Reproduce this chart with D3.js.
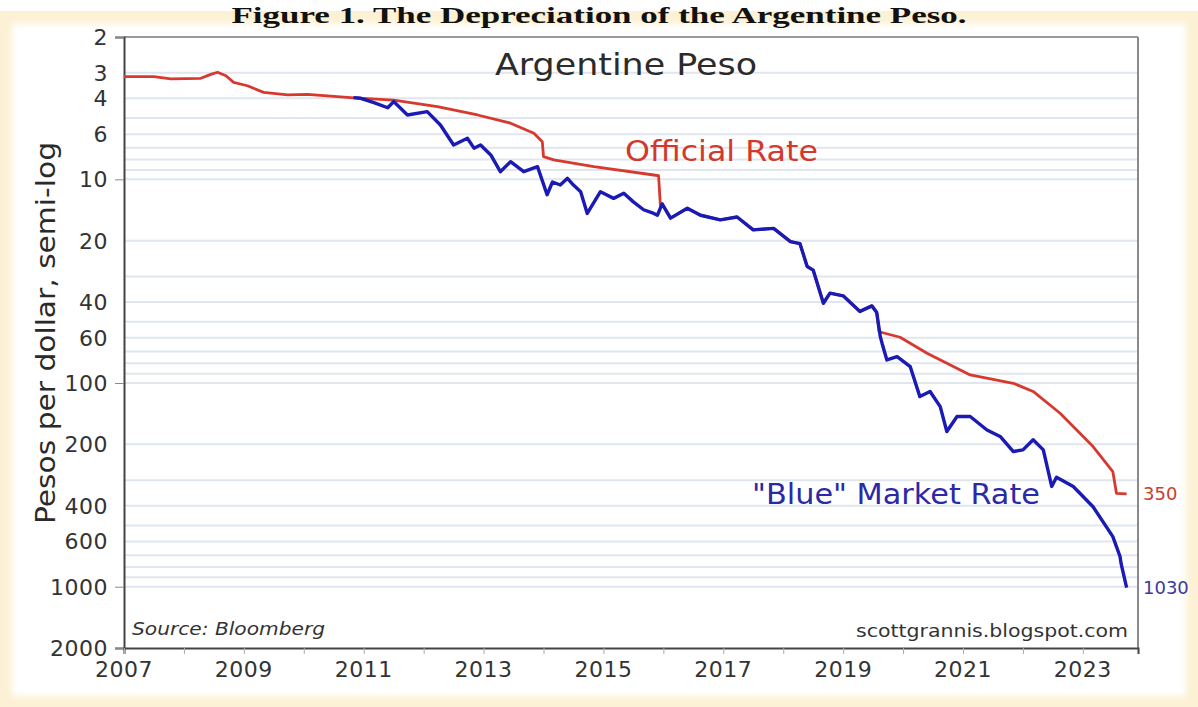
<!DOCTYPE html>
<html>
<head>
<meta charset="utf-8">
<script src="https://cdn.jsdelivr.net/npm/d3@7"></script>
<style>
  html, body { margin: 0; padding: 0; background: #fff; }
  svg { display: block; }
</style>
</head>
<body>
<svg id="chart" width="1198" height="707"></svg>
<script>
// Argentine peso: official vs "blue" market rate (semi-log, inverted)

const officialYears = [2007.0, 2007.5, 2007.78, 2008.28, 2008.45, 2008.56, 2008.7, 2008.83, 2009.06, 2009.33,
  2009.73, 2010.06, 2010.78, 2011.5, 2012.23, 2012.9, 2013.45, 2013.84, 2013.98, 2014.0,
  2014.17, 2014.84, 2015.84, 2015.92, 2015.95, 2015.98, 2016.12, 2016.4, 2016.62, 2016.95,
  2017.23, 2017.5, 2017.84, 2018.12, 2018.28, 2018.4, 2018.5, 2018.67, 2018.78, 2019.0,
  2019.28, 2019.48, 2019.56, 2019.6, 2019.95, 2020.4, 2021.12, 2021.84, 2022.17, 2022.62,
  2023.17, 2023.5, 2023.56, 2023.73];
const officialValues = [3.13, 3.13, 3.21, 3.19, 3.05, 2.98, 3.1, 3.34, 3.47, 3.74,
  3.85, 3.83, 3.97, 4.08, 4.4, 4.83, 5.3, 5.94, 6.53, 7.73,
  8.02, 8.66, 9.52, 9.6, 13.4, 13.2, 15.5, 13.87, 15.0, 15.8,
  15.3, 17.7, 17.4, 20.2, 20.7, 26.8, 27.9, 40.6, 36.2, 37.3,
  44.5, 41.8, 45, 56, 59.6, 71.4, 91.3, 100.3, 110, 140.7,
  205, 272, 348, 350];

const blueYears = [2010.83, 2010.95, 2011.17, 2011.4, 2011.5, 2011.73, 2012.06, 2012.28, 2012.5, 2012.73,
  2012.84, 2012.95, 2013.12, 2013.28, 2013.45, 2013.67, 2013.9, 2014.06, 2014.15, 2014.28,
  2014.4, 2014.5, 2014.62, 2014.73, 2014.95, 2015.17, 2015.34, 2015.5, 2015.67, 2015.84,
  2015.9, 2015.98, 2016.12, 2016.4, 2016.62, 2016.95, 2017.23, 2017.5, 2017.84, 2018.12,
  2018.28, 2018.4, 2018.5, 2018.67, 2018.78, 2019.0, 2019.28, 2019.48, 2019.56, 2019.62,
  2019.65, 2019.73, 2019.9, 2020.12, 2020.28, 2020.45, 2020.62, 2020.73, 2020.9, 2021.12,
  2021.4, 2021.62, 2021.84, 2022.0, 2022.17, 2022.34, 2022.48, 2022.56, 2022.84, 2023.17,
  2023.5, 2023.62, 2023.64, 2023.73];
const blueValues = [3.97, 4.0, 4.2, 4.45, 4.15, 4.83, 4.65, 5.41, 6.78, 6.28,
  7.03, 6.78, 7.59, 9.17, 8.19, 9.17, 8.66, 11.9, 10.3, 10.66,
  9.88, 10.66, 11.5, 14.7, 11.5, 12.4, 11.7, 12.9, 14.1, 14.7,
  15.0, 13.2, 15.5, 13.87, 15.0, 15.8, 15.3, 17.7, 17.4, 20.2,
  20.7, 26.8, 27.9, 40.6, 36.2, 37.3, 44.5, 41.8, 45, 59.2,
  63.9, 77, 74.2, 83.1, 116.6, 110, 130.6, 173, 146, 146,
  170, 183, 217, 213, 190, 213, 322, 290, 322, 405,
  568, 711, 775, 1010];

const yLabelValues = [2, 3, 4, 6, 10, 20, 40, 60, 100, 200, 400, 600, 1000, 2000];
const yTickMarks = [2, 10, 100, 1000, 2000];
const xLabelYears = [2007, 2009, 2011, 2013, 2015, 2017, 2019, 2021, 2023];
const lastOfficial = 350;
const lastBlue = 1030;

const svg = d3.select('#chart');
const W = 1198, H = 707;
const m = { left: 124, right: 1138, top: 37, bottom: 648 };
const font = '"DejaVu Sans", sans-serif';

// frame
const defs = svg.append('defs');
const blur = defs.append('filter').attr('id', 'soft').attr('x', '-5%').attr('y', '-5%')
  .attr('width', '110%').attr('height', '110%');
blur.append('feGaussianBlur').attr('stdDeviation', 3);

svg.append('rect').attr('x', 0).attr('y', 11).attr('width', W).attr('height', H - 11)
  .attr('fill', '#fcf1d4');
svg.append('rect').attr('x', 12).attr('y', 24).attr('width', W - 24).attr('height', H - 35)
  .attr('fill', '#fff').attr('filter', 'url(#soft)');

svg.append('text')
  .attr('x', W / 2).attr('y', 23)
  .attr('text-anchor', 'middle')
  .attr('font-family', '"Liberation Serif", serif')
  .attr('font-weight', 'bold')
  .attr('font-size', 24)
  .attr('fill', '#111')
  .attr('textLength', 735)
  .attr('lengthAdjust', 'spacingAndGlyphs')
  .text('Figure 1. The Depreciation of the Argentine Peso.');

const x = d3.scaleLinear().domain([2007, 2023.92]).range([m.left, m.right]);
const y = d3.scaleLog().domain([2, 2000]).range([m.top, m.bottom]);

// minor grid: every integer multiple within each decade
const gridVals = [];
[1, 10, 100, 1000].forEach(base => {
  for (let k = 1; k <= 9; k++) {
    const v = base * k;
    if (v > 2 && v < 2000) gridVals.push(v);
  }
});

svg.append('g')
  .selectAll('line')
  .data(gridVals)
  .join('line')
    .attr('x1', m.left).attr('x2', m.right)
    .attr('y1', d => y(d)).attr('y2', d => y(d))
    .attr('stroke', '#dfe6ee')
    .attr('stroke-width', 2);

// plot box
svg.append('line').attr('x1', m.left).attr('x2', m.right).attr('y1', m.top).attr('y2', m.top)
  .attr('stroke', '#9a9a9a').attr('stroke-width', 2);
svg.append('line').attr('x1', m.right).attr('x2', m.right).attr('y1', m.top).attr('y2', m.bottom)
  .attr('stroke', '#8a8a8a').attr('stroke-width', 2);

// axes
const yAxis = d3.axisLeft(y).tickValues(yTickMarks).tickSize(9).tickFormat('');
svg.append('g').attr('transform', `translate(${m.left},0)`).call(yAxis)
  .call(g => g.selectAll('line').attr('stroke', '#888'))
  .call(g => g.select('.domain').attr('stroke', '#444').attr('stroke-width', 2));

svg.append('g')
  .selectAll('text')
  .data(yLabelValues)
  .join('text')
    .attr('x', 108).attr('y', d => y(d))
    .attr('dy', '0.36em')
    .attr('text-anchor', 'end')
    .attr('font-family', font)
    .attr('font-size', 22)
    .attr('letter-spacing', 0.5)
    .attr('fill', '#333')
    .text(d => d);

const xAxis = d3.axisBottom(x).tickValues(d3.range(2007, 2024)).tickSize(6).tickFormat('');
svg.append('g').attr('transform', `translate(0,${m.bottom})`).call(xAxis)
  .call(g => g.selectAll('line').attr('stroke', '#aaa'))
  .call(g => g.select('.domain').attr('stroke', '#444').attr('stroke-width', 2));

svg.append('g')
  .selectAll('text')
  .data(xLabelYears)
  .join('text')
    .attr('x', d => x(d)).attr('y', 677)
    .attr('text-anchor', 'middle')
    .attr('font-family', font)
    .attr('font-size', 22)
    .attr('letter-spacing', 0.5)
    .attr('fill', '#333')
    .text(d => d);

svg.append('text')
  .attr('transform', `translate(55,333) rotate(-90)`)
  .attr('text-anchor', 'middle')
  .attr('font-family', font)
  .attr('font-size', 26)
  .attr('fill', '#2a2a2a')
  .attr('textLength', 382)
  .attr('lengthAdjust', 'spacingAndGlyphs')
  .text('Pesos per dollar, semi-log');

// series
const line = d3.line()
  .x(d => x(d[0]))
  .y(d => y(d[1]));

const official = officialYears.map((t, i) => [t, officialValues[i]]);
const blue = blueYears.map((t, i) => [t, blueValues[i]]);

svg.append('path').datum(official)
  .attr('d', line)
  .attr('fill', 'none')
  .attr('stroke', '#d8392e')
  .attr('stroke-width', 2.8)
  .attr('stroke-linejoin', 'round');

svg.append('path').datum(blue)
  .attr('d', line)
  .attr('fill', 'none')
  .attr('stroke', '#1a1ab4')
  .attr('stroke-width', 3.4)
  .attr('stroke-linejoin', 'round');

// labels
svg.append('text')
  .attr('x', 626).attr('y', 75)
  .attr('text-anchor', 'middle')
  .attr('font-family', font).attr('font-size', 30)
  .attr('fill', '#2b2b2b')
  .attr('textLength', 262).attr('lengthAdjust', 'spacingAndGlyphs')
  .text('Argentine Peso');

svg.append('text')
  .attr('x', 625).attr('y', 161)
  .attr('font-family', font).attr('font-size', 28)
  .attr('fill', '#d2392c')
  .attr('textLength', 193).attr('lengthAdjust', 'spacingAndGlyphs')
  .text('Official Rate');

svg.append('text')
  .attr('x', 752).attr('y', 504)
  .attr('font-family', font).attr('font-size', 28)
  .attr('fill', '#2a2aa8')
  .attr('textLength', 288).attr('lengthAdjust', 'spacingAndGlyphs')
  .text('"Blue" Market Rate');

svg.append('text')
  .attr('x', 1143).attr('y', y(lastOfficial))
  .attr('dy', '0.36em')
  .attr('font-family', font).attr('font-size', 18)
  .attr('fill', '#c8402f')
  .text(lastOfficial);

svg.append('text')
  .attr('x', 1143).attr('y', y(lastBlue) - 2)
  .attr('dy', '0.36em')
  .attr('font-family', font).attr('font-size', 18)
  .attr('fill', '#3a3a9a')
  .text(lastBlue);

svg.append('text')
  .attr('x', 132).attr('y', 635)
  .attr('font-family', font).attr('font-size', 17)
  .attr('font-style', 'italic')
  .attr('fill', '#333')
  .attr('textLength', 193).attr('lengthAdjust', 'spacingAndGlyphs')
  .text('Source: Bloomberg');

svg.append('text')
  .attr('x', 1128).attr('y', 637)
  .attr('text-anchor', 'end')
  .attr('font-family', font).attr('font-size', 18)
  .attr('fill', '#333')
  .attr('textLength', 272).attr('lengthAdjust', 'spacingAndGlyphs')
  .text('scottgrannis.blogspot.com');
</script>
</body>
</html>
